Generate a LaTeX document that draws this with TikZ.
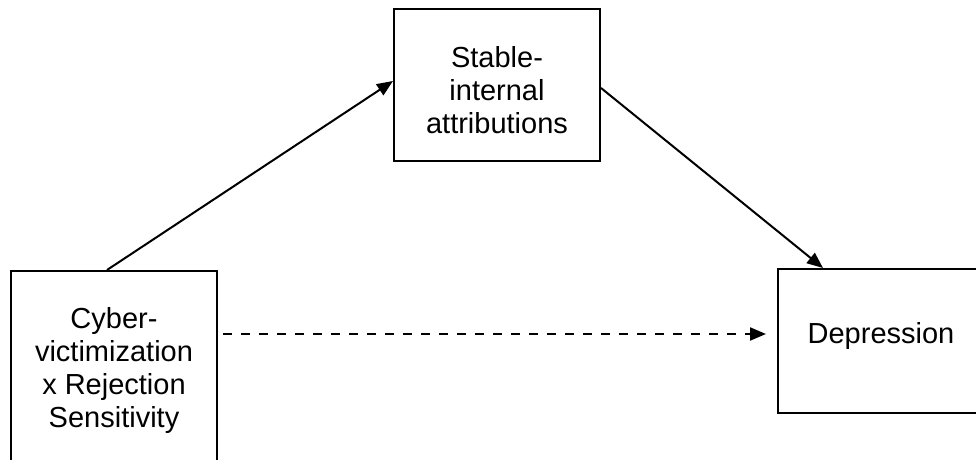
\documentclass[tikz,border=0pt]{standalone}
\usepackage{fontspec}
\setmainfont{Liberation Sans}
\usetikzlibrary{arrows.meta,calc}
\begin{document}
\begin{tikzpicture}[x=0.5pt,y=-0.5pt,
  box/.style={draw=black, line width=1pt, rectangle, inner sep=0pt, minimum width=103pt},
  txt/.style={align=center, inner sep=0pt, font=\fontsize{14.5pt}{16.5pt}\selectfont},
  link/.style={line width=1pt, -{Triangle[length=8pt,width=6.5pt]}},
  linkdash/.style={link, dash pattern=on 4.5pt off 4.5pt}
]
\useasboundingbox (0,0) rectangle (976,460);
\clip (0,0) rectangle (976,460);

% boxes
\node[box, minimum height=100pt] (cv)  at (114,371) {};
\node[box, minimum height=76pt]  (sia) at (497,85)  {};
\node[box, minimum height=72pt]  (dep) at (881,341) {};

% box texts
\node[txt] (cvtext)  at (114,371) {Cyber-\\victimization\\x Rejection\\Sensitivity};
\node[txt] (siatext) at (497,90)  {Stable-\\internal\\attributions};
\node[txt] (deptext) at (881,336) {Depression};

% paths
\draw[link] ([xshift=-3.5pt]cv.north) -- ([yshift=2pt]sia.west);
\draw[link] ([yshift=-1.5pt]sia.east) -- ([xshift=-29pt]dep.north);
\draw[linkdash, shorten <=2.5pt, shorten >=5.5pt]
  ([yshift=18.5pt]cv.east) -- ([yshift=3.5pt]dep.west);
\end{tikzpicture}
\end{document}
